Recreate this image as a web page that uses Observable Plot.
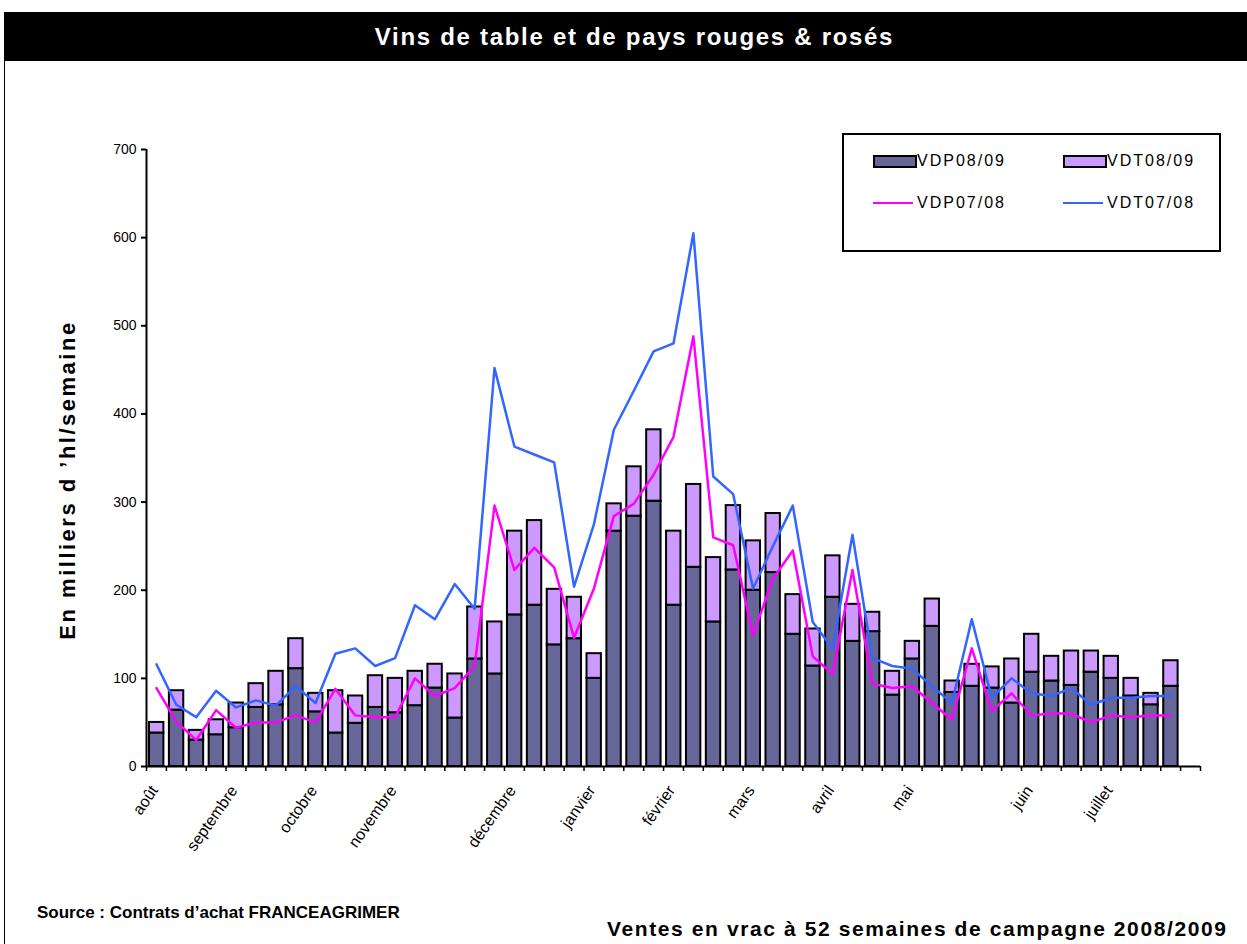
<!DOCTYPE html>
<html><head><meta charset="utf-8">
<script src="https://cdn.jsdelivr.net/npm/d3@7"></script>
<script src="https://cdn.jsdelivr.net/npm/@observablehq/plot@0.6"></script>
<style>
body{margin:0;background:#fff;font-family:Arial,"Liberation Sans",sans-serif;}
#wrap{position:relative;width:1247px;height:944px;overflow:hidden;background:#fff;}
#frame{position:absolute;left:4px;top:12px;width:1300px;height:1000px;border:1px solid #000;box-sizing:border-box;}
#title{position:absolute;left:4px;top:12px;width:1243px;height:49px;background:#000;color:#fff;font-weight:bold;font-size:24px;letter-spacing:1.7px;line-height:49px;text-align:center;padding-left:18px;box-sizing:border-box;}
#chart{position:absolute;left:0;top:61px;}
#ylab{position:absolute;left:68px;top:480px;transform:translate(-50%,-50%) rotate(-90deg);font-weight:bold;font-size:22px;letter-spacing:2.5px;white-space:nowrap;}
#legend{position:absolute;left:842px;top:133px;width:379px;height:119px;border:2px solid #000;box-sizing:border-box;background:#fff;font-size:16px;letter-spacing:2px;}
.it{position:absolute;white-space:nowrap;}
.sw{position:absolute;width:40px;height:9px;border:2px solid #000;box-sizing:content-box;}
.ln{position:absolute;width:40px;height:2px;}
#src{position:absolute;left:37px;top:903px;font-weight:bold;font-size:17px;white-space:nowrap;}
#note{position:absolute;left:607px;top:917px;font-weight:bold;font-size:21px;letter-spacing:1.6px;white-space:nowrap;}
</style></head>
<body>
<div id="wrap">
  <div id="frame"></div>
  <div id="title">Vins de table et de pays rouges &amp; rosés</div>
  <div id="chart"></div>
  <div id="ylab">En milliers d ’hl/semaine</div>
  <div id="legend"></div>
  <div id="src">Source : Contrats d’achat FRANCEAGRIMER</div>
  <div id="note">Ventes en vrac à 52 semaines de campagne 2008/2009</div>
</div>
<script>
// Weekly values (thousand hl), weeks 1..52 of the campaign
const weeks = d3.range(1, 53);
const VDP0809 = [38,64,30,36,44,67,70,111,62,38,49,67,61,69,89,55,122,105,172,183,138,145,100,267,284,301,183,226,164,223,200,220,150,114,192,142,153,81,122,159,84,91,89,72,107,97,92,107,100,80,70,91];
const VDT0809 = [12,22,11,17,28,27,38,34,21,48,31,36,39,39,27,50,59,59,95,96,63,47,28,31,56,81,84,94,73,73,56,67,45,42,47,42,22,27,20,31,13,25,24,50,43,28,39,24,25,20,13,29];
const VDP0708 = [89,51,30,64,44,50,50,58,50,88,58,56,56,100,80,89,114,296,223,248,226,146,202,284,298,331,374,488,260,251,149,213,245,125,105,223,94,89,91,72,53,134,63,83,58,60,60,50,58,56,58,58];
const VDT0708 = [116,70,56,86,67,75,69,91,72,128,134,114,123,183,167,207,179,452,363,354,345,204,275,382,426,471,480,605,329,309,202,250,296,164,134,263,123,114,111,91,72,167,78,100,83,80,89,70,78,78,80,80];
const monthNames = ["août","septembre","octobre","novembre","décembre","janvier","février","mars","avril","mai","juin","juillet"];
const monthWeeks = [1,5,9,13,19,23,27,31,35,39,45,49];
const yTicks = [0,100,200,300,400,500,600,700];
const nSlots = 53;

const data = weeks.map((w, i) => ({w, vdp: VDP0809[i], vdt: VDT0809[i], p: VDP0708[i], t: VDT0708[i]}));
const months = monthNames.map((name, i) => ({name, w: monthWeeks[i]}));

const COL_DARK = "#666699", COL_LIGHT = "#CC99FF", COL_MAG = "#FF00FF", COL_BLUE = "#3366FF";

const chart = Plot.plot({
  width: 1247,
  height: 829,
  marginTop: 88,
  marginBottom: 124,
  marginLeft: 146,
  marginRight: 47,
  style: {fontFamily: "Arial, 'Liberation Sans', sans-serif", background: "transparent", color: "#000"},
  x: {domain: [0, nSlots], axis: null},
  y: {domain: [0, 700], axis: null},
  marks: [
    Plot.rectY(data, {x1: d => d.w - 1, x2: d => d.w, y1: 0, y2: "vdp", fill: COL_DARK, stroke: "#000", strokeWidth: 2, insetLeft: 3, insetRight: 2.5}),
    Plot.rectY(data, {x1: d => d.w - 1, x2: d => d.w, y1: "vdp", y2: d => d.vdp + d.vdt, fill: COL_LIGHT, stroke: "#000", strokeWidth: 2, insetLeft: 3, insetRight: 2.5}),
    Plot.line(data, {x: d => d.w - 0.5, y: "p", stroke: COL_MAG, strokeWidth: 2.5}),
    Plot.line(data, {x: d => d.w - 0.5, y: "t", stroke: COL_BLUE, strokeWidth: 2.5}),
    Plot.ruleX([0], {stroke: "#000", strokeWidth: 2}),
    Plot.ruleY([0], {stroke: "#000", strokeWidth: 2}),
    Plot.axisY({ticks: yTicks, tickSize: 5, tickPadding: 5, fontSize: 14, tickFormat: d => String(d), strokeWidth: 2, label: null, style: {letterSpacing: "1px"}}),
    Plot.axisX({ticks: d3.range(0, nSlots + 1), tickSize: 5, tickFormat: () => "", strokeWidth: 1.5, label: null}),
    Plot.text(months, {x: d => d.w - 0.5, y: () => 0, text: "name", rotate: -55, textAnchor: "end", fontSize: 16, dx: -2, dy: 21, style: {letterSpacing: "0.8px"}})
  ]
});
document.getElementById("chart").appendChild(chart);

// Legend
const legend = document.getElementById("legend");
const items = [
  {label: "VDP08/09", type: "sw", color: COL_DARK, x: 29, y: 21},
  {label: "VDT08/09", type: "sw", color: COL_LIGHT, x: 219, y: 21},
  {label: "VDP07/08", type: "ln", color: COL_MAG, x: 29, y: 63},
  {label: "VDT07/08", type: "ln", color: COL_BLUE, x: 219, y: 63}
];
for (const it of items) {
  const s = document.createElement("div");
  s.className = it.type;
  s.style.background = it.color;
  s.style.left = it.x + "px";
  s.style.top = (it.type === "sw" ? it.y - 1 : it.y + 4) + "px";
  legend.appendChild(s);
  const t = document.createElement("div");
  t.className = "it";
  t.textContent = it.label;
  t.style.left = (it.x + 44) + "px";
  t.style.top = (it.y - 4) + "px";
  legend.appendChild(t);
}
</script>
</body></html>
